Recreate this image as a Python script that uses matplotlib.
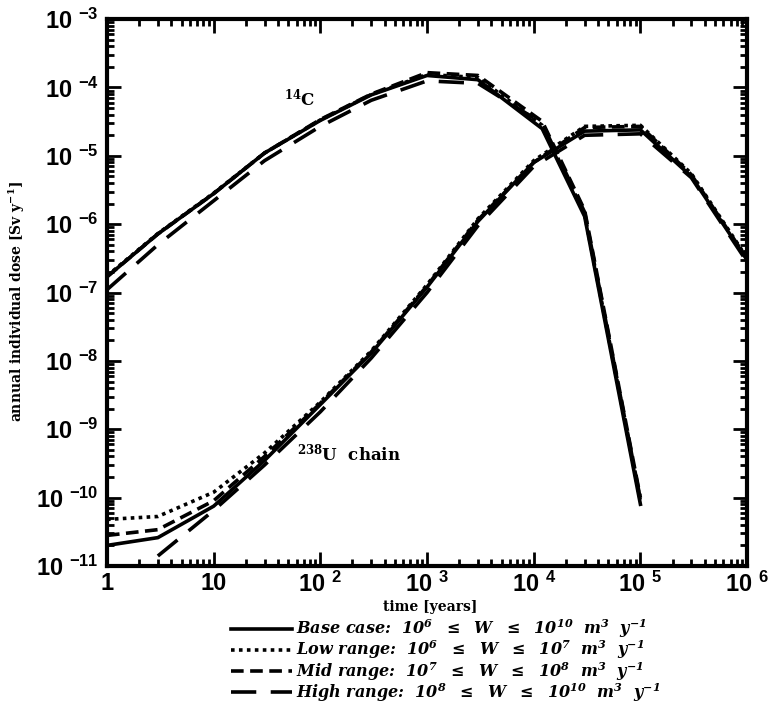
import numpy as np
import matplotlib
matplotlib.use("Agg")
import matplotlib.pyplot as plt
from matplotlib.ticker import FuncFormatter, FixedLocator, NullFormatter

plt.rcParams['mathtext.default'] = 'regular'

# C-14 curves
t_c14 = [1, 3, 10, 30, 100, 300, 1e3, 3e3, 1.2e4, 3e4, 1e5]
c14_base = [1.7e-7, 7.2e-7, 2.8e-6, 1.1e-5, 3.3e-5, 7.8e-5, 1.5e-4, 1.3e-4, 2.5e-5, 1.3e-6, 8e-11]
c14_low = [1.75e-7, 7.3e-7, 2.85e-6, 1.1e-5, 3.35e-5, 7.9e-5, 1.55e-4, 1.4e-4, 2.8e-5, 1.4e-6, 9e-11]
c14_mid = [1.7e-7, 7.2e-7, 2.8e-6, 1.1e-5, 3.4e-5, 8e-5, 1.65e-4, 1.5e-4, 3.2e-5, 1.6e-6, 1e-10]
c14_high = [1.1e-7, 5e-7, 2.2e-6, 8.5e-6, 2.7e-5, 6.5e-5, 1.25e-4, 1.15e-4, 3e-5, 1.5e-6, 9.5e-11]

# U-238 chain curves
t_u = [1, 3, 10, 30, 100, 300, 1e3, 3e3, 1e4, 3e4, 1e5, 3e5, 1e6]
u_base = [2.0e-11, 2.6e-11, 7.5e-11, 3.5e-10, 2.3e-9, 1.3e-8, 1.2e-7, 1.1e-6, 8e-6, 2.3e-5, 2.4e-5, 5e-6, 3e-7]
u_low = [4.8e-11, 5.3e-11, 1.2e-10, 4.5e-10, 2.5e-9, 1.4e-8, 1.3e-7, 1.2e-6, 8.5e-6, 2.7e-5, 2.8e-5, 5.5e-6, 3.2e-7]
u_mid = [2.8e-11, 3.4e-11, 9e-11, 4e-10, 2.4e-9, 1.35e-8, 1.25e-7, 1.15e-6, 8e-6, 2.6e-5, 2.7e-5, 5.3e-6, 3.1e-7]
t_u_high = [3, 10, 30, 100, 300, 1e3, 3e3, 1e4, 3e4, 1e5, 3e5, 1e6]
u_high = [1.4e-11, 6.5e-11, 3e-10, 1.8e-9, 1.1e-8, 1e-7, 9.5e-7, 7e-6, 2e-5, 2.1e-5, 4.8e-6, 2.8e-7]

x_ticks = [1, 10, 1e2, 1e3, 1e4, 1e5, 1e6]
y_ticks = [1e-11, 1e-10, 1e-9, 1e-8, 1e-7, 1e-6, 1e-5, 1e-4, 1e-3]

labels = [r'Base case:  $10^6$  $\leq$  W  $\leq$  $10^{10}$  m$^3$  y$^{-1}$',
          r'Low range:  $10^6$  $\leq$  W  $\leq$  $10^7$  m$^3$  y$^{-1}$',
          r'Mid range:  $10^7$  $\leq$  W  $\leq$  $10^8$  m$^3$  y$^{-1}$',
          r'High range:  $10^8$  $\leq$  W  $\leq$  $10^{10}$  m$^3$  y$^{-1}$']

fig = plt.figure(figsize=(7.75, 7.09), dpi=100)
ax = fig.add_axes([0.138, 0.2017, 0.826, 0.7713])

lw = 2.6
styles = ['-', (0, (1, 1.2)), (0, (3.5, 1.8)), (0, (7, 4))]

ax.plot(t_c14, c14_base, color='k', lw=lw, ls=styles[0])
ax.plot(t_c14, c14_low, color='k', lw=lw, ls=styles[1])
ax.plot(t_c14, c14_mid, color='k', lw=lw, ls=styles[2])
ax.plot(t_c14, c14_high, color='k', lw=lw, ls=styles[3])

h1, = ax.plot(t_u, u_base, color='k', lw=lw, ls=styles[0])
h2, = ax.plot(t_u, u_low, color='k', lw=lw, ls=styles[1])
h3, = ax.plot(t_u, u_mid, color='k', lw=lw, ls=styles[2])
h4, = ax.plot(t_u_high, u_high, color='k', lw=lw, ls=styles[3])

ax.set_xscale('log')
ax.set_yscale('log')
ax.set_xlim(1, 1e6)
ax.set_ylim(1e-11, 1e-3)


def fmt(v, pos):
    e = int(round(np.log10(v)))
    if e == 0:
        return '1'
    if e == 1:
        return '10'
    return r'10 $^{%d}$' % e


# minor ticks 2..9 inside each decade
x_minor = [m * 10.0 ** d for d in range(0, 6) for m in range(2, 10)]
y_minor = [m * 10.0 ** d for d in range(-11, -3) for m in range(2, 10)]

ax.xaxis.set_major_locator(FixedLocator(x_ticks))
ax.yaxis.set_major_locator(FixedLocator(y_ticks))
ax.xaxis.set_minor_locator(FixedLocator(x_minor))
ax.yaxis.set_minor_locator(FixedLocator(y_minor))
ax.xaxis.set_major_formatter(FuncFormatter(fmt))
ax.yaxis.set_major_formatter(FuncFormatter(fmt))
ax.xaxis.set_minor_formatter(NullFormatter())
ax.yaxis.set_minor_formatter(NullFormatter())

ax.tick_params(which='both', direction='in', top=True, right=True, width=2, color='k')
ax.tick_params(which='major', length=10, pad=6, labelsize=17)
ax.tick_params(axis='x', which='major', pad=4)
ax.tick_params(which='minor', length=5)
for lab in ax.get_xticklabels() + ax.get_yticklabels():
    lab.set_fontfamily('Liberation Sans')
    lab.set_fontweight('bold')
for s in ax.spines.values():
    s.set_linewidth(3)

ax.set_xlabel('time [years]', fontsize=10, fontweight='heavy', family='DejaVu Serif', va='top')
ax.xaxis.set_label_coords(0.505, -0.063)
ax.set_ylabel(r'annual individual dose [Sv y$^{-1}$]', fontsize=10, fontweight='heavy',
              family='DejaVu Serif')
ax.yaxis.set_label_coords(-0.125, 0.483)

ax.text(46, 5.5e-5, r'$^{14}$C', fontsize=12, fontweight='bold', family='DejaVu Serif')
ax.text(60, 3.5e-10, r'$^{238}$U  chain', fontsize=12, fontweight='bold', family='DejaVu Serif')

fig.legend([h1, h2, h3, h4], labels, loc='lower center', bbox_to_anchor=(0.575, -0.006),
           frameon=False, handlelength=3.8, handletextpad=0.3, labelspacing=-0.1,
           borderpad=0.1, prop=dict(family='DejaVu Serif', weight='bold', style='italic', size=11.5))

fig.savefig('out.png', dpi=100)
